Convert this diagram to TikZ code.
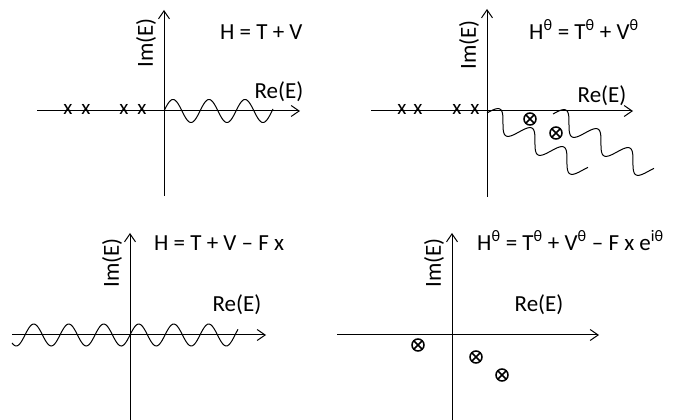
\documentclass[tikz,border=0pt]{standalone}
\usepackage{fontspec}
\setmainfont{Carlito}
\usepackage{tikz}
\usetikzlibrary{arrows.meta}

\begin{document}
\begin{tikzpicture}[x=1pt, y=1pt, >={Straight Barb[length=8pt,width=11pt]},
  axis/.style={line width=1pt, ->},
  wave/.style={line width=1pt, smooth, samples=150},
  lbl/.style={font=\fontsize{23}{27}\selectfont, inner sep=0pt},
  mark x/.style={font=\fontsize{21}{25}\selectfont, inner sep=0pt},
  pole/.style={line width=1.5pt}]
\useasboundingbox (0,0) rectangle (688,420);
% --- H = T + V ---
\begin{scope}[shift={(164,309)}]
\coordinate (W) at (-127,0); \coordinate (E) at (136,0);
\coordinate (S) at (0,-85);  \coordinate (N) at (0,101);
\draw[axis] (W) -- (E);
\draw[axis] (S) -- (N);
\foreach \cx [count=\i] in {-96,-78,-40,-22}
  {\node[mark x] (xa\i) at (\cx,2) {x};}
\draw[wave] plot[domain=0:109] (\x, {11.5*sin(\x/36*360)});
\node[lbl, anchor=base west] (Ha) at (56,71) {H = T + V};
\node[lbl, rotate=90] (ima) at (-18,68) {Im(E)};
\node[lbl] (rea) at (115,19) {Re(E)};
\end{scope}
% --- complex scaled ---
\begin{scope}[shift={(487,309)}]
\coordinate (W) at (-116,0); \coordinate (E) at (146,0);
\coordinate (S) at (0,-86);  \coordinate (N) at (0,102);
\draw[axis] (W) -- (E);
\draw[axis] (S) -- (N);
\foreach \cx [count=\i] in {-85,-69,-30,-12}
  {\node[mark x] (xb\i) at (\cx,2) {x};}
\foreach \sx/\sy in {0/-2, 66/-3}
  {\draw[wave, shift={(\sx,\sy)}, rotate=-30.7]
     plot[domain=0:114.6] (\x, {10*sin(\x/37.2*360)});}
\foreach \p in {(43,-8), (69,-22)}
  {\draw[pole] \p circle (6pt) +(-4.2,-4.2) -- +(4.2,4.2) +(-4.2,4.2) -- +(4.2,-4.2);}
\node[lbl, anchor=base west] (Hb) at (42,71) {H\textsuperscript{θ} = T\textsuperscript{θ} + V\textsuperscript{θ}};
\node[lbl, rotate=90] (imb) at (-18,66) {Im(E)};
\node[lbl] (reb) at (115,15) {Re(E)};
\end{scope}
% --- H = T + V - F x ---
\begin{scope}[shift={(130,85)}]
\coordinate (W) at (-118,0); \coordinate (E) at (136,0);
\coordinate (S) at (0,-85);  \coordinate (N) at (0,102);
\draw[axis] (W) -- (E);
\draw[axis] (S) -- (N);
\draw[wave] plot[domain=-118:108] (\x, {11*sin(\x/35*360)});
\node[lbl, anchor=base west] (Hc) at (24,84) {H = T + V -- F x};
\node[lbl, rotate=90] (imc) at (-18,72) {Im(E)};
\node[lbl] (rec) at (107,30) {Re(E)};
\end{scope}
% --- complex scaled, with field ---
\begin{scope}[shift={(452,85)}]
\coordinate (W) at (-115,0); \coordinate (E) at (147,0);
\coordinate (S) at (0,-85);  \coordinate (N) at (0,102);
\draw[axis] (W) -- (E);
\draw[axis] (S) -- (N);
\foreach \p in {(-34,-10), (24,-22), (50,-40)}
  {\draw[pole] \p circle (6pt) +(-4.2,-4.2) -- +(4.2,4.2) +(-4.2,4.2) -- +(4.2,-4.2);}
\node[lbl, anchor=base west] (Hd) at (25,84) {H\textsuperscript{θ} = T\textsuperscript{θ} + V\textsuperscript{θ} -- F x e\textsuperscript{iθ}};
\node[lbl, rotate=90] (imd) at (-18,72) {Im(E)};
\node[lbl] (red) at (87,30) {Re(E)};
\end{scope}
\end{tikzpicture}
\end{document}
